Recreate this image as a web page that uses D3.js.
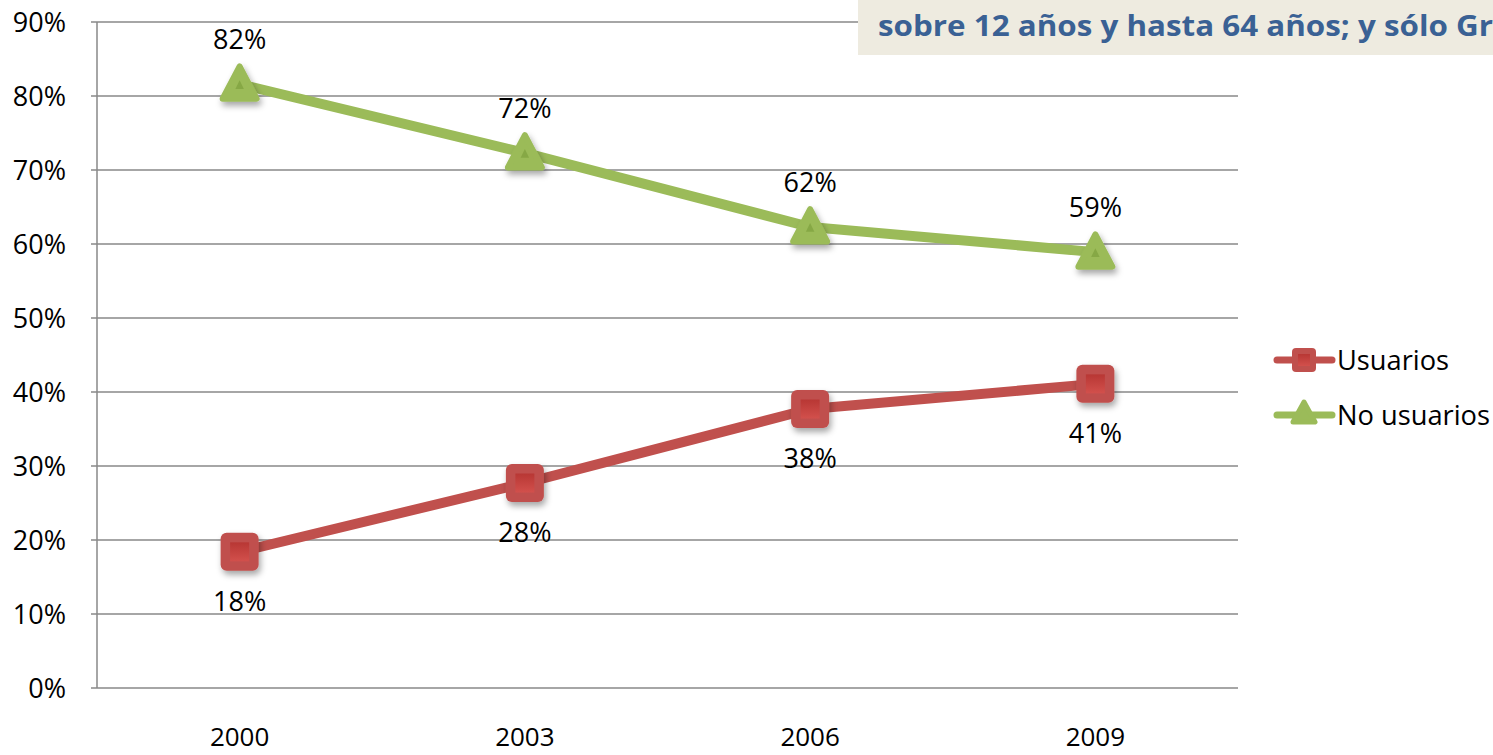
<!DOCTYPE html>
<html><head><meta charset="utf-8">
<script src="https://cdn.jsdelivr.net/npm/d3@7"></script>
<style>body{margin:0;background:#fff;overflow:hidden}svg{display:block}text{font-family:"Open Sans","Noto Sans",sans-serif}</style>
</head><body>
<svg id="c" width="1493" height="755"></svg>
<script>
const years = ["2000","2003","2006","2009"];
const usuarios = [18.4, 27.7, 37.7, 41.1];
const noUsuarios = [81.6, 72.3, 62.3, 58.9];
const yTicks = [0,10,20,30,40,50,60,70,80,90];
const seriesNames = ["Usuarios","No usuarios"];
const titleText = "sobre 12 años y hasta 64 años; y sólo Gr";

const svg = d3.select("#c");
const L=97, R=1238, T=22, B=688;
const FS = 27;
const x = d3.scalePoint().domain(years).range([L,R]).padding(0.5);
const y = d3.scaleLinear().domain([0,90]).range([B,T]);

const defs = svg.append("defs");
const f = defs.append("filter").attr("id","sh").attr("x","-50%").attr("y","-50%").attr("width","200%").attr("height","200%");
f.append("feDropShadow").attr("dx",2).attr("dy",4).attr("stdDeviation",3).attr("flood-color","#000").attr("flood-opacity",0.35);
const gr = defs.append("linearGradient").attr("id","gr").attr("x1",0).attr("y1",0).attr("x2",0).attr("y2",1);
gr.append("stop").attr("offset","0").attr("stop-color","#b83734");
gr.append("stop").attr("offset","1").attr("stop-color","#d2504c");

// grid
svg.append("g").selectAll("line").data(yTicks).join("line")
  .attr("x1",L-6).attr("x2",R).attr("y1",d=>y(d)).attr("y2",d=>y(d))
  .attr("stroke","#888").attr("stroke-width",1.5);
svg.append("line").attr("x1",L).attr("x2",L).attr("y1",T).attr("y2",B).attr("stroke","#888").attr("stroke-width",1.5);
svg.append("g").selectAll("text").data(yTicks).join("text")
  .attr("x",66).attr("y",d=>y(d)+10).attr("text-anchor","end")
  .attr("font-size",FS).attr("fill","#000").text(d=>d+"%");
svg.append("g").selectAll("text").data(years).join("text")
  .attr("x",d=>x(d)).attr("y",746).attr("text-anchor","middle")
  .attr("font-size",26).attr("fill","#000").text(d=>d);

const line = d3.line().x((d,i)=>x(years[i])).y(d=>y(d));
const red="#c0504d", green="#9bbb59";

function square(g, cx, cy, s){
  g.append("rect").attr("x",cx-s/2).attr("y",cy-s/2).attr("width",s).attr("height",s).attr("rx",6)
   .attr("fill",red).attr("filter","url(#sh)");
  g.append("rect").attr("x",cx-s/4).attr("y",cy-s/4).attr("width",s/2).attr("height",s/2).attr("fill","url(#gr)");
}
function tri(g, cx, cy, s){
  const h=s*0.95;
  g.append("path").attr("d",`M${cx},${cy-h*0.55} L${cx+s/2},${cy+h*0.45} L${cx-s/2},${cy+h*0.45} Z`)
   .attr("fill",green).attr("stroke",green).attr("stroke-width",6).attr("stroke-linejoin","round").attr("filter","url(#sh)");
  g.append("path").attr("d",`M${cx},${cy-h*0.12} L${cx+s/8},${cy+h*0.15} L${cx-s/8},${cy+h*0.15} Z`).attr("fill","#86a845");
}

svg.append("path").attr("d",line(noUsuarios)).attr("fill","none").attr("stroke",green).attr("stroke-width",10).attr("stroke-linejoin","round");
svg.append("path").attr("d",line(usuarios)).attr("fill","none").attr("stroke",red).attr("stroke-width",10).attr("stroke-linejoin","round");

const mg = svg.append("g");
noUsuarios.forEach((v,i)=>tri(mg, x(years[i]), y(v), 34));
usuarios.forEach((v,i)=>square(mg, x(years[i]), y(v), 38));

svg.append("g").selectAll("text").data(noUsuarios).join("text")
  .attr("x",(d,i)=>x(years[i])).attr("y",d=>y(d)-35).attr("text-anchor","middle")
  .attr("font-size",FS).text(d=>Math.round(d)+"%");
svg.append("g").selectAll("text").data(usuarios).join("text")
  .attr("x",(d,i)=>x(years[i])).attr("y",d=>y(d)+59).attr("text-anchor","middle")
  .attr("font-size",FS).text(d=>Math.round(d)+"%");

// legend
const lg = svg.append("g");
[0,1].forEach(i=>{
  const ly = 360 + i*55;
  const c = i===0?red:green;
  lg.append("line").attr("x1",1277).attr("x2",1332).attr("y1",ly).attr("y2",ly).attr("stroke",c).attr("stroke-width",7).attr("stroke-linecap","round");
  if(i===0){
    lg.append("rect").attr("x",1292).attr("y",ly-12).attr("width",24).attr("height",24).attr("rx",4).attr("fill",red);
    lg.append("rect").attr("x",1298).attr("y",ly-6).attr("width",12).attr("height",12).attr("fill","url(#gr)");
  } else {
    lg.append("path").attr("d",`M1304,${ly-13} L1315,${ly+7} L1293,${ly+7} Z`).attr("fill",green).attr("stroke",green).attr("stroke-width",5).attr("stroke-linejoin","round");
  }
  lg.append("text").attr("x",1337).attr("y",ly+10).attr("font-size",FS).attr("textLength",i===0?112:153).attr("lengthAdjust","spacingAndGlyphs").text(seriesNames[i]);
});

// title box (cropped)
svg.append("rect").attr("x",858).attr("y",0).attr("width",640).attr("height",55).attr("fill","#eeebe0");
svg.append("text").attr("x",878).attr("y",36).attr("font-size",29).attr("font-weight","bold").attr("fill","#3a6194")
  .attr("textLength",615).attr("lengthAdjust","spacingAndGlyphs").text(titleText);
</script>
</body></html>
